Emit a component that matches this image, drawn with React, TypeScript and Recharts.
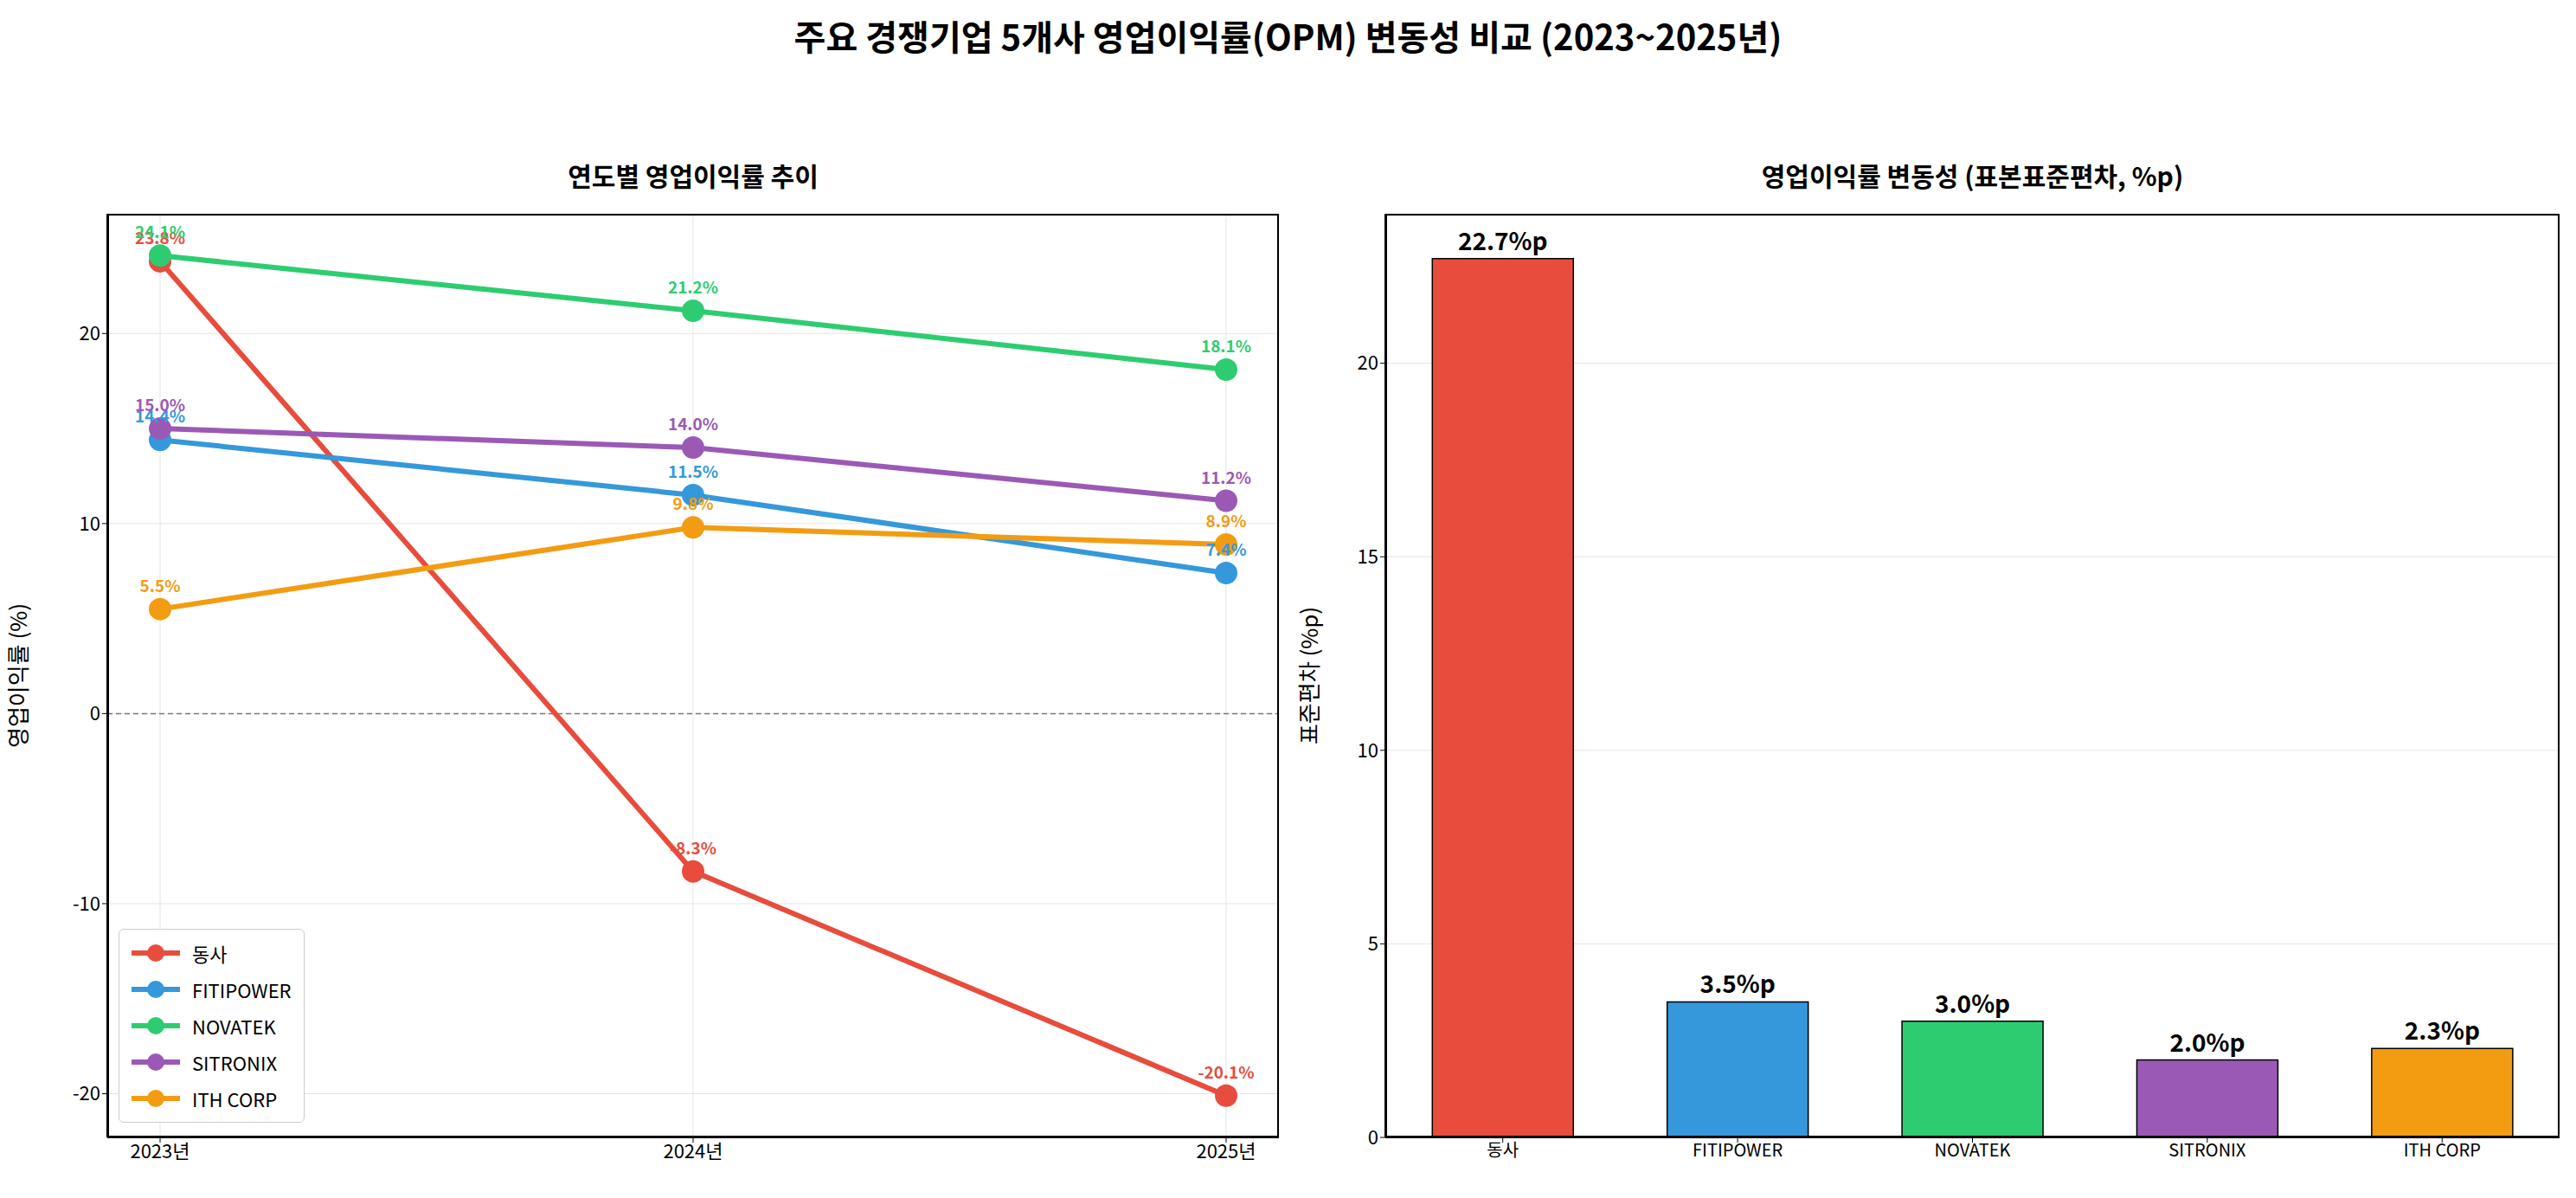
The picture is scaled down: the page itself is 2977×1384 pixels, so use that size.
import { Bar, BarChart, CartesianGrid, Cell, LabelList, Line, LineChart, ReferenceLine, XAxis, YAxis } from "recharts";

const years = ["2023년", "2024년", "2025년"];
const companies = ["동사", "FITIPOWER", "NOVATEK", "SITRONIX", "ITH CORP"];
const colors = ["#e74c3c", "#3498db", "#2ecc71", "#9b59b6", "#f39c12"];
const opm = [
  [23.8, -8.3, -20.1],
  [14.4, 11.5, 7.4],
  [24.1, 21.2, 18.1],
  [15.0, 14.0, 11.2],
  [5.5, 9.8, 8.9],
];
const stdev = [22.7, 3.5, 3.0, 2.0, 2.3];
const leftTicks = [-20, -10, 0, 10, 20];
const rightTicks = [0, 5, 10, 15, 20];

const FONT = '"Noto Sans CJK KR", "Noto Sans", sans-serif';

const lineData = years.map((year, i) => {
  const row: Record<string, string | number> = { year };
  companies.forEach((c, j) => (row[c] = opm[j][i]));
  return row;
});
const barData = companies.map((name, i) => ({ name, value: stdev[i] }));

const tick = { fontSize: 22, fill: "#000", fontFamily: FONT };

function LegendBox() {
  return (
    <div style={{ position: "absolute", left: 137, top: 1073, border: "1px solid #ccc", borderRadius: 6, background: "#fff", padding: "6px 14px", fontFamily: FONT, fontSize: 22 }}>
      {companies.map((c, i) => (
        <div key={c} style={{ display: "flex", alignItems: "center", height: 42 }}>
          <svg width={56} height={24} style={{ marginRight: 14 }}>
            <line x1={0} x2={56} y1={12} y2={12} stroke={colors[i]} strokeWidth={6} />
            <circle cx={28} cy={12} r={10} fill={colors[i]} />
          </svg>
          {c}
        </div>
      ))}
    </div>
  );
}

const frame = { position: "absolute" as const, top: 247, height: 1314 - 247, border: "2px solid #000", boxSizing: "border-box" as const, pointerEvents: "none" as const };

export default function App() {
  return (
    <div style={{ position: "absolute", left: 0, top: 0, width: 2977, height: 1384, background: "#fff", fontFamily: FONT }}>
      <div style={{ position: "absolute", top: 12, width: "100%", textAlign: "center", fontSize: 40, fontWeight: 700 }}>
        주요 경쟁기업 5개사 영업이익률(OPM) 변동성 비교 (2023~2025년)
      </div>
      <div style={{ position: "absolute", top: 180, left: 124, width: 1354, textAlign: "center", fontSize: 30, fontWeight: 700 }}>
        연도별 영업이익률 추이
      </div>
      <div style={{ position: "absolute", top: 180, left: 1601, width: 1357, textAlign: "center", fontSize: 30, fontWeight: 700 }}>
        영업이익률 변동성 (표본표준편차, %p)
      </div>

      <div style={{ position: "absolute", left: 0, top: 0 }}>
        <LineChart width={1500} height={1384} data={lineData} margin={{ top: 247, right: 22, bottom: 20, left: 0 }}>
          <CartesianGrid stroke="#e5e5e5" />
          <XAxis dataKey="year" tick={tick} tickLine={{ stroke: "#000" }} axisLine={{ stroke: "#000", strokeWidth: 2 }} height={50} padding={{ left: 61, right: 61 }} />
          <YAxis
            type="number"
            domain={[-22.3, 26.3]}
            ticks={leftTicks}
            tick={tick}
            tickLine={{ stroke: "#000" }}
            axisLine={{ stroke: "#000", strokeWidth: 2 }}
            width={124}
            label={{ value: "영업이익률 (%)", angle: -90, position: "insideLeft", offset: 22, style: { fontSize: 26, fill: "#000", fontFamily: FONT, textAnchor: "middle" } }}
          />
          <ReferenceLine y={0} stroke="#777" strokeDasharray="6 4" strokeWidth={1.5} />
          {companies.map((c, i) => (
            <Line
              key={c}
              dataKey={c}
              stroke={colors[i]}
              strokeWidth={6}
              dot={{ r: 10, fill: colors[i], stroke: colors[i] }}
              isAnimationActive={false}
            >
              <LabelList
                dataKey={c}
                position="top"
                offset={20}
                formatter={(v: number) => `${v.toFixed(1)}%`}
                style={{ fill: colors[i], fontSize: 19, fontWeight: 700, fontFamily: FONT }}
              />
            </Line>
          ))}
        </LineChart>
      </div>
      <div style={{ ...frame, left: 124, width: 1478 - 124 }} />
      <LegendBox />

      <div style={{ position: "absolute", left: 1490, top: 0 }}>
        <BarChart width={1487} height={1384} data={barData} margin={{ top: 247, right: 19, bottom: 20, left: 0 }} barCategoryGap="20%">
          <CartesianGrid stroke="#e5e5e5" vertical={false} />
          <XAxis dataKey="name" tick={{ ...tick, fontSize: 20 }} tickLine={{ stroke: "#000" }} axisLine={{ stroke: "#000", strokeWidth: 2 }} height={50} />
          <YAxis
            type="number"
            domain={[0, 23.86]}
            ticks={rightTicks}
            tick={tick}
            tickLine={{ stroke: "#000" }}
            axisLine={{ stroke: "#000", strokeWidth: 2 }}
            width={111}
            label={{ value: "표준편차 (%p)", angle: -90, position: "insideLeft", offset: 24, style: { fontSize: 26, fill: "#000", fontFamily: FONT, textAnchor: "middle" } }}
          />
          <Bar dataKey="value" stroke="#000" strokeWidth={1.5} isAnimationActive={false}>
            {barData.map((d, i) => (
              <Cell key={d.name} fill={colors[i]} />
            ))}
            <LabelList
              dataKey="value"
              position="top"
              offset={10}
              formatter={(v: number) => `${v.toFixed(1)}%p`}
              style={{ fill: "#000", fontSize: 28, fontWeight: 700, fontFamily: FONT }}
            />
          </Bar>
        </BarChart>
      </div>
      <div style={{ ...frame, left: 1601, width: 2958 - 1601 }} />
    </div>
  );
}
